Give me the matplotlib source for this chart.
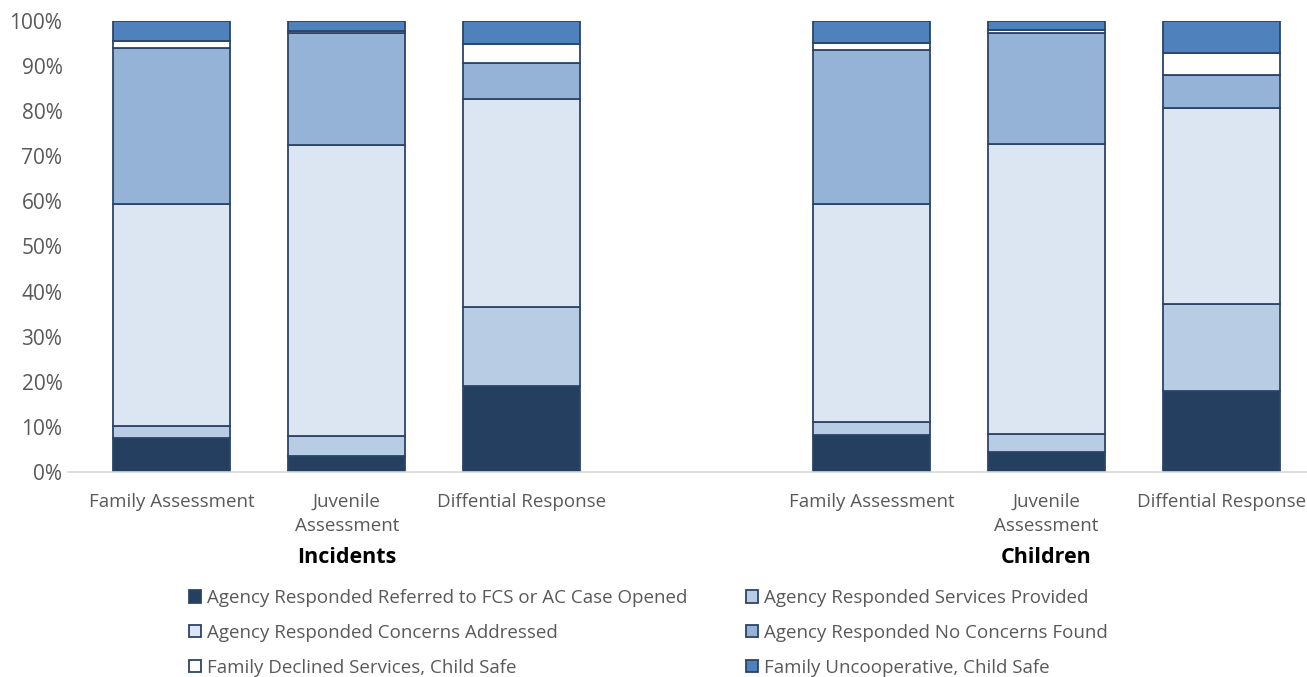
import matplotlib
matplotlib.use("Agg")
import matplotlib.pyplot as plt
from matplotlib.ticker import PercentFormatter
import numpy as np

plt.rcParams['font.family'] = ['Open Sans', 'DejaVu Sans']

# bar order: Incidents FA, JA, DR, (gap), Children FA, JA, DR
categories = ["Family Assessment", "Juvenile\nAssessment", "Diffential Response"]
groups = ["Incidents", "Children"]

series_names = [
    "Agency Responded Referred to FCS or AC Case Opened",
    "Agency Responded Services Provided",
    "Agency Responded Concerns Addressed",
    "Agency Responded No Concerns Found",
    "Family Declined Services, Child Safe",
    "Family Uncooperative, Child Safe",
]

referred = [7.6, 3.6, 19.1, 8.1, 4.3, 18.0]
services = [2.5, 4.3, 17.4, 2.9, 4.2, 19.3]
addressed = [49.2, 64.7, 46.1, 48.3, 64.2, 43.4]
no_concerns = [34.6, 24.8, 8.1, 34.3, 24.7, 7.4]
declined = [1.7, 0.4, 4.3, 1.6, 0.5, 4.9]
uncooperative = [4.4, 2.2, 5.0, 4.8, 2.1, 7.0]

colors = ["#243F60", "#B8CCE4", "#DCE6F2", "#95B3D7", "#FFFFFF", "#4F81BD"]
edge = "#2B4468"
grey = "#595959"

fig = plt.figure(figsize=(13.07, 6.77), dpi=100)
ax = fig.add_axes([0.052, 0.303, 0.948, 0.666])

x = np.array([0, 1, 2, 4, 5, 6])
data = [referred, services, addressed, no_concerns, declined, uncooperative]
bottom = np.zeros(len(x))
handles = []
for vals, col, name in zip(data, colors, series_names):
    vals = np.array(vals)
    b = ax.bar(x, vals, width=0.67, bottom=bottom, color=col,
               edgecolor=edge, linewidth=1.3, label=name)
    handles.append(b)
    bottom += vals

ax.set_ylim(0, 100)
ax.set_xlim(-0.594, 6.49)
ax.set_yticks(range(0, 101, 10))
ax.yaxis.set_major_formatter(PercentFormatter(decimals=0))
ax.tick_params(axis='y', length=0, labelsize=15, labelcolor=grey, pad=4)
ax.set_xticks(x)
ax.set_xticklabels(categories * 2, linespacing=1.45)
ax.tick_params(axis='x', length=0, labelsize=13.5, labelcolor=grey, pad=15)
for s in ["top", "right", "left"]:
    ax.spines[s].set_visible(False)
ax.spines["bottom"].set_color("#D9D9D9")
ax.spines["bottom"].set_linewidth(1.2)

for gx, g in zip([1, 5], groups):
    ax.text(gx, -0.19, g, transform=ax.get_xaxis_transform(), ha="center",
            va="center", fontsize=15.5, fontweight="bold", color="black")

# column-major ordering so rows read as in the reference
order = [0, 2, 4, 1, 3, 5]
leg = fig.legend([handles[i] for i in order], [series_names[i] for i in order],
                 ncol=2, loc="upper left", bbox_to_anchor=(0.139, 0.1413),
                 frameon=False, fontsize=13.5, labelcolor=grey,
                 handlelength=0.65, handleheight=0.65, handletextpad=0.3,
                 columnspacing=3.13, labelspacing=0.9, borderaxespad=0)

fig.savefig("out.png", dpi=100)
